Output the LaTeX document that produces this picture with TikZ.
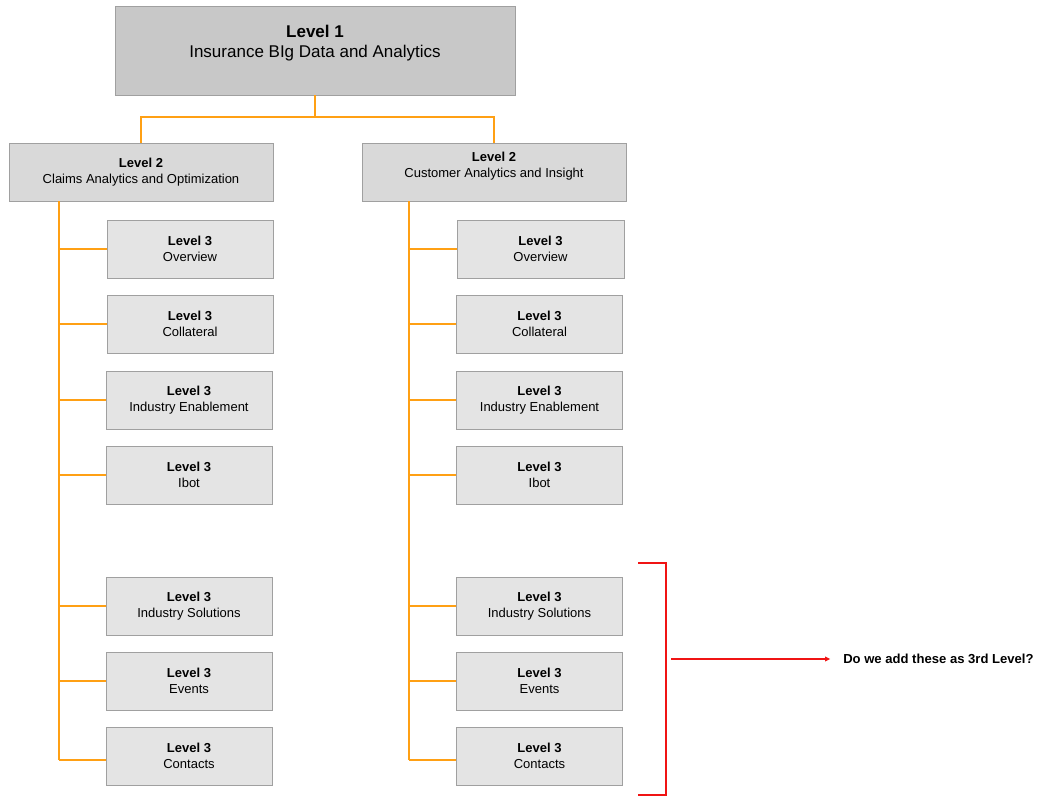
\documentclass[tikz,border=0pt]{standalone}
\usepackage{fontspec}
\setmainfont{Liberation Sans}
\usetikzlibrary{arrows.meta}
\definecolor{boxline}{RGB}{160,160,160}
\definecolor{fillA}{RGB}{200,200,200}
\definecolor{fillB}{RGB}{217,217,217}
\definecolor{fillC}{RGB}{228,228,228}
\definecolor{org}{RGB}{255,160,20}
\definecolor{redl}{RGB}{240,20,20}
\tikzset{
  boxbase/.style={draw=boxline, line width=0.7pt, inner sep=0pt},
  topbox/.style={boxbase, fill=fillA, minimum width=300pt, minimum height=66.75pt},
  lvtwo/.style={boxbase, fill=fillB, minimum width=198pt, minimum height=43.5pt},
  lvthree/.style={boxbase, fill=fillC, minimum width=124.5pt, minimum height=43.5pt, align=center, font=\fontsize{9.75}{12}\selectfont},
  txt/.style={align=center, inner sep=0pt},
  conn/.style={draw=org, line width=0.9pt},
  redc/.style={draw=redl, line width=0.9pt},
}
\begin{document}
\begin{tikzpicture}[x=0.75pt,y=-0.75pt]
\useasboundingbox (0,0) rectangle (1039,797);
% level 1
\node[topbox] (top) at (315,50.5) {};
\node[txt, font=\fontsize{12.75}{15}\selectfont] (toptxt) at (315,43) {\textbf{Level 1}\\Insurance BIg Data and Analytics};
% level 2
\node[lvtwo] (la) at (141,172) {};
\node[txt, font=\fontsize{9.75}{12}\selectfont] (latxt) at (141,172.5) {\textbf{Level 2}\\Claims Analytics and Optimization};
\node[lvtwo] (lb) at (494,172) {};
\node[txt, font=\fontsize{9.75}{12}\selectfont] (lbtxt) at (494,166.5) {\textbf{Level 2}\\Customer Analytics and Insight};
% level 3 left
\node[lvthree] (a1) at (190,249) {\textbf{Level 3}\\Overview};
\node[lvthree] (a2) at (190,324) {\textbf{Level 3}\\Collateral};
\node[lvthree] (a3) at (189,400) {\textbf{Level 3}\\Industry Enablement};
\node[lvthree] (a4) at (189,475) {\textbf{Level 3}\\Ibot};
\node[lvthree] (a5) at (189,606) {\textbf{Level 3}\\Industry Solutions};
\node[lvthree] (a6) at (189,681) {\textbf{Level 3}\\Events};
\node[lvthree] (a7) at (189,756) {\textbf{Level 3}\\Contacts};
% level 3 right
\node[lvthree, minimum width=125.25pt] (b1) at (540.5,249) {\textbf{Level 3}\\Overview};
\node[lvthree] (b2) at (539.5,324) {\textbf{Level 3}\\Collateral};
\node[lvthree] (b3) at (539.5,400) {\textbf{Level 3}\\Industry Enablement};
\node[lvthree] (b4) at (539.5,475) {\textbf{Level 3}\\Ibot};
\node[lvthree] (b5) at (539.5,606) {\textbf{Level 3}\\Industry Solutions};
\node[lvthree] (b6) at (539.5,681) {\textbf{Level 3}\\Events};
\node[lvthree] (b7) at (539.5,756) {\textbf{Level 3}\\Contacts};
% connectors top
\coordinate (jt) at (315,117);
\draw[conn] (top.south) -- (jt);
\draw[conn] (jt) -| (la.north);
\draw[conn] (jt) -| (lb.north);
% trunks
\coordinate (ta) at (59,760);
\coordinate (tb) at (409,760);
\draw[conn] (la.south -| ta) -- (ta);
\draw[conn] (lb.south -| tb) -- (tb);
\foreach \n in {1,...,6}{
  \draw[conn] (a\n.west -| ta) -- (a\n.west);
  \draw[conn] (b\n.west -| tb) -- (b\n.west);
}
\draw[conn] (ta) -- (ta -| a7.west);
\draw[conn] (tb) -- (tb -| b7.west);
% red bracket
\coordinate (r1) at (638,563);
\coordinate (r2) at (666,563);
\coordinate (r3) at (666,795);
\coordinate (r4) at (638,795);
\draw[redc] (r1) -- (r2) -- (r3) -- (r4);
\node[anchor=west, inner sep=0pt, font=\fontsize{9.8}{12}\selectfont\bfseries] (q) at (843,659) {Do we add these as 3rd Level?};
\coordinate (as) at (671,659);
\draw[redc, -{Triangle[length=4pt,width=3.5pt]}] (as) -- ([xshift=-9.5pt]q.west);
\end{tikzpicture}
\end{document}
